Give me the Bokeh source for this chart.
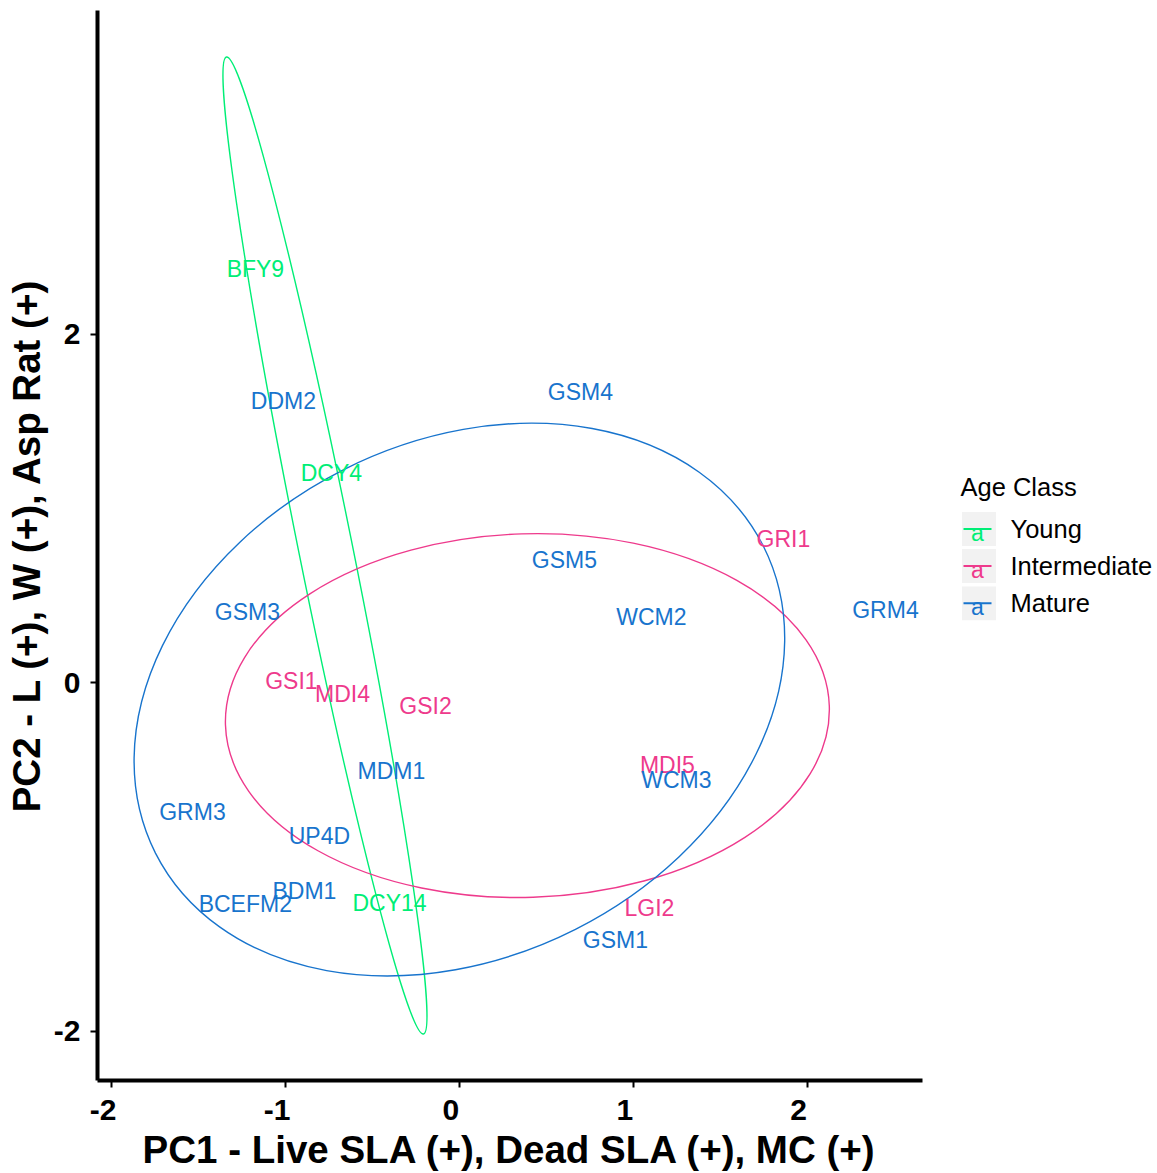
from bokeh.plotting import figure
from bokeh.models import Range1d, FixedTicker, ColumnDataSource
from bokeh.layouts import row
from bokeh.embed import file_html
from bokeh.resources import INLINE
from bokeh.core.properties import value

# ---- data ----
sites = ["BFY9", "DCY4", "DCY14",
         "GRI1", "GSI1", "MDI4", "GSI2", "MDI5", "LGI2",
         "GSM4", "DDM2", "GSM5", "GSM3", "WCM2", "GRM4", "MDM1",
         "WCM3", "GRM3", "UP4D", "BDM1", "BCEFM2", "GSM1"]
age_class = ["Young", "Young", "Young",
             "Intermediate", "Intermediate", "Intermediate", "Intermediate",
             "Intermediate", "Intermediate",
             "Mature", "Mature", "Mature", "Mature", "Mature", "Mature", "Mature",
             "Mature", "Mature", "Mature", "Mature", "Mature", "Mature"]
pc1 = [-1.172, -0.735, -0.401,
       1.864, -0.965, -0.671, -0.194, 1.197, 1.094,
       0.697, -1.011, 0.605, -1.218, 1.105, 2.451, -0.390,
       1.249, -1.534, -0.804, -0.890, -1.230, 0.898]
pc2 = [2.375, 1.202, -1.265,
       0.824, 0.011, -0.063, -0.132, -0.472, -1.293,
       1.665, 1.617, 0.704, 0.406, 0.375, 0.415, -0.509,
       -0.558, -0.741, -0.881, -1.196, -1.270, -1.474]

# 95% ellipses per age class (centre, full axes, rotation in degrees)
ell_class = ["Young", "Intermediate", "Mature"]
ell_cx = [-0.772, 0.392, 0.001]
ell_cy = [0.787, -0.189, -0.097]
ell_width = [5.731, 3.474, 3.916]
ell_height = [0.309, 2.086, 2.956]
ell_angle = [101.4, 1.8, 26.8]

classes = ["Young", "Intermediate", "Mature"]
class_colors = ["#00EE76", "#EE3A8C", "#1874CD"]

x_ticks = [-2, -1, 0, 1, 2]
x_tick_labels = ["-2", "-1", "0", "1", "2"]
y_ticks = [-2, 0, 2]
y_tick_labels = ["-2", "0", "2"]

x_title = "PC1 - Live SLA (+), Dead SLA (+), MC (+)"
y_title = "PC2 - L (+), W (+), Asp Rat (+)"
legend_title = "Age Class"

cmap = dict(zip(classes, class_colors))
NB = "\u00a0"

# ---- main panel ----
W_MAIN, H = 940, 1173
p = figure(width=W_MAIN, height=H,
           x_range=Range1d(-2.080, 2.664), y_range=Range1d(-2.283, 3.857),
           output_backend="svg", toolbar_location=None,
           min_border_left=97, min_border_top=10, min_border_right=18,
           min_border_bottom=90)
p.grid.visible = False
p.outline_line_color = None
p.background_fill_color = "white"
p.border_fill_color = "white"

ell_src = ColumnDataSource(dict(x=ell_cx, y=ell_cy, w=ell_width, h=ell_height,
                                a=ell_angle, c=[cmap[k] for k in ell_class]))
p.ellipse(x="x", y="y", width="w", height="h", angle="a", angle_units="deg",
          source=ell_src, fill_color=None, line_color="c", line_width=1.4)

lab_src = ColumnDataSource(dict(x=pc1, y=pc2, t=sites,
                                c=[cmap[k] for k in age_class]))
p.text(x="x", y="y", text="t", source=lab_src, text_color="c",
       text_font=value("Liberation Sans"), text_font_size="23px",
       text_align="center", text_baseline="middle")

for ax in (p.xaxis[0], p.yaxis[0]):
    ax.axis_line_width = 4
    ax.axis_line_color = "black"
    ax.major_tick_line_width = 2
    ax.major_tick_line_color = "black"
    ax.major_tick_out = 7
    ax.major_tick_in = 0
    ax.minor_tick_line_color = None
    ax.major_label_text_font = "Liberation Sans"
    ax.major_label_text_font_style = "bold"
    ax.major_label_text_font_size = "30px"
    ax.major_label_text_color = "black"
    ax.axis_label_text_font = "Liberation Sans"
    ax.axis_label_text_font_style = "bold"
    ax.axis_label_text_font_size = "38.5px"
    ax.axis_label_text_color = "black"

p.xaxis.ticker = FixedTicker(ticks=x_ticks)
p.yaxis.ticker = FixedTicker(ticks=y_ticks)
p.xaxis.major_label_overrides = {float(k): v + NB * 2 for k, v in zip(x_ticks, x_tick_labels)}
p.yaxis.major_label_overrides = {float(k): v for k, v in zip(y_ticks, y_tick_labels)}
p.xaxis.axis_label = x_title
p.yaxis.axis_label = y_title
p.xaxis.major_label_standoff = 5
p.xaxis.axis_label_standoff = -1
p.yaxis.major_label_standoff = 10
p.yaxis.axis_label_standoff = 3

# ---- legend panel (pixel coordinates, frame aligned with main frame) ----
LW = 1157 - W_MAIN
lg = figure(width=LW, height=H, x_range=Range1d(0, LW), y_range=Range1d(1083, 10),
            output_backend="svg", toolbar_location=None,
            x_axis_type=None, y_axis_type=None,
            min_border_left=0, min_border_right=0,
            min_border_top=10, min_border_bottom=90)
lg.outline_line_color = None
lg.grid.visible = False
lg.background_fill_color = "white"
lg.border_fill_color = "white"

key_y = [530, 567, 604.5]
lg.text(x=[20], y=[488], text=[legend_title], text_font=value("Liberation Sans"),
        text_font_size="25.5px", text_align="left", text_baseline="middle",
        text_color="black")
lg.rect(x=[38.5] * 3, y=key_y, width=34, height=34, fill_color="#F2F2F2",
        line_color=None)
lg.segment(x0=[23] * 3, y0=key_y, x1=[51] * 3, y1=key_y, line_color=class_colors,
           line_width=2)
lg.text(x=[37] * 3, y=[k + 4 for k in key_y], text=["a"] * 3,
        text_color=class_colors, text_font=value("Liberation Sans"),
        text_font_size="23px", text_align="center", text_baseline="middle")
lg.text(x=[70] * 3, y=key_y, text=classes, text_font=value("Liberation Sans"),
        text_font_size="25.5px", text_align="left", text_baseline="middle",
        text_color="black")

layout = row(p, lg)
open("out.html", "w").write(file_html(layout, INLINE))
